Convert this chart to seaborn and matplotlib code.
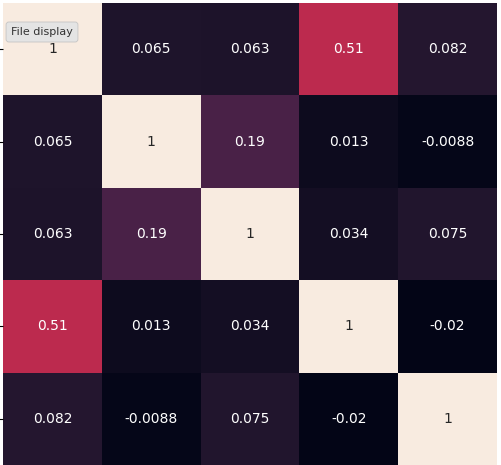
import numpy as np
import pandas as pd
import matplotlib
matplotlib.use("Agg")
import matplotlib.pyplot as plt
from matplotlib.colors import ListedColormap
import seaborn as sns

labels = ["a", "b", "c", "d", "e"]
row0 = [1, 0.065, 0.063, 0.51, 0.082]
row1 = [0.065, 1, 0.19, 0.013, -0.0088]
row2 = [0.063, 0.19, 1, 0.034, 0.075]
row3 = [0.51, 0.013, 0.034, 1, -0.02]
row4 = [0.082, -0.0088, 0.075, -0.02, 1]

df = pd.DataFrame([row0, row1, row2, row3, row4], index=labels, columns=labels)

# rocket, slightly desaturated as in the reference rendering
base = sns.color_palette("rocket", as_cmap=True)(np.linspace(0, 1, 256))[:, :3]
lum = (base @ np.array([0.299, 0.587, 0.114]))[:, None]
muted = base * 0.82 + lum * 0.18
cmap = ListedColormap(np.clip(muted, 0, 1))

W, H = 501, 465
fig = plt.figure(figsize=(W / 100, H / 100), dpi=100)
ax = fig.add_axes([3 / W, 0 / H, 494 / W, 462 / H])
sns.heatmap(df, annot=True, cbar=False, ax=ax, cmap=cmap, annot_kws={"fontsize": 10})
ax.set_xticklabels([])
ax.set_yticklabels([])
ax.set_xlabel("")
ax.set_ylabel("")

fig.text(42 / W, 1 - 32 / H, "File display", ha="center", va="center", fontsize=8,
         color="#333333",
         bbox=dict(boxstyle="round,pad=0.45,rounding_size=0.25", fc="#e4e4e4", ec="#c4c4c4", lw=0.6))

fig.savefig("out.png", dpi=100)
